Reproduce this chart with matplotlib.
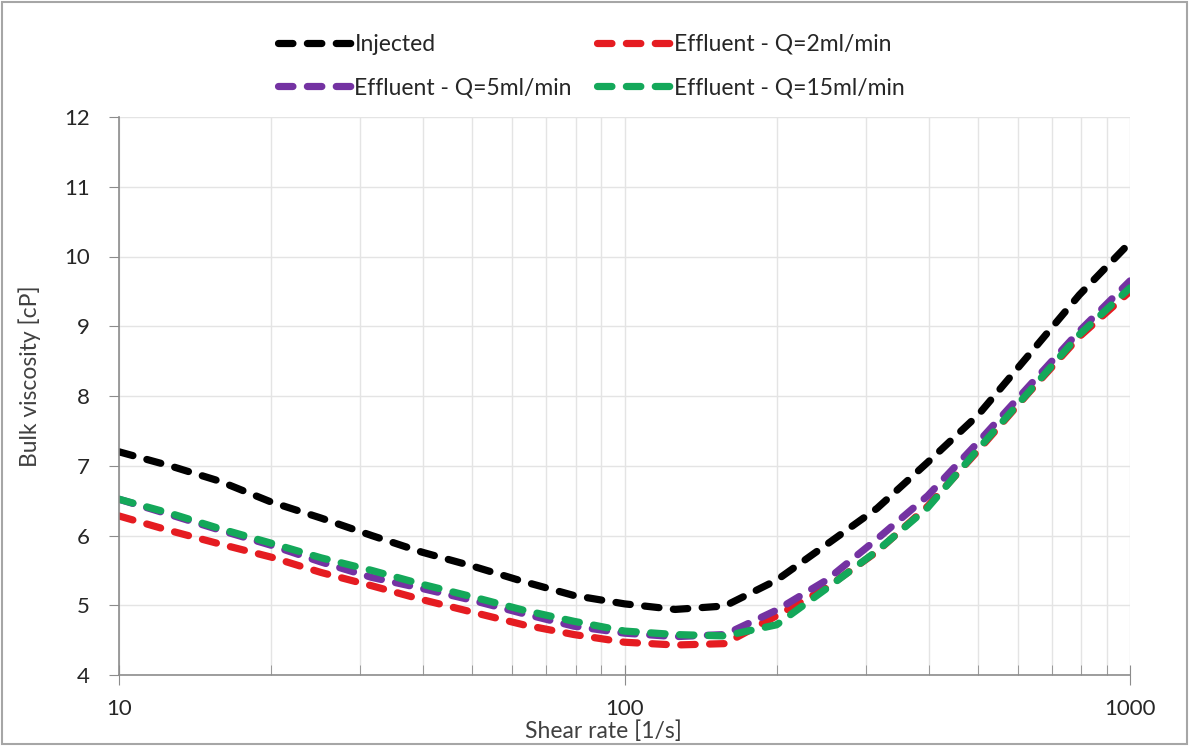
import numpy as np
import matplotlib.pyplot as plt
import matplotlib.patches as patches
from matplotlib.ticker import FixedLocator, NullFormatter, FuncFormatter

plt.rcParams['font.family'] = ['Lato', 'DejaVu Sans']

# shear rate [1/s]
shear = [10, 12.6, 15.8, 20, 25.1, 31.6, 39.8, 50.1, 63.1, 79.4, 100,
         126, 158, 200, 251, 316, 398, 501, 631, 794, 1000]

# bulk viscosity [cP]
injected = [7.20, 7.00, 6.78, 6.48, 6.25, 6.00, 5.76, 5.56, 5.34, 5.14, 5.02,
            4.94, 4.99, 5.36, 5.87, 6.39, 7.05, 7.73, 8.59, 9.45, 10.20]
eff_2 = [6.28, 6.07, 5.88, 5.69, 5.47, 5.28, 5.08, 4.90, 4.72, 4.58, 4.47,
         4.43, 4.45, 4.85, 5.25, 5.77, 6.42, 7.22, 8.05, 8.85, 9.50]
eff_5 = [6.52, 6.30, 6.08, 5.86, 5.62, 5.40, 5.24, 5.07, 4.88, 4.70, 4.60,
         4.55, 4.58, 4.93, 5.36, 5.95, 6.57, 7.34, 8.14, 8.93, 9.65]
eff_15 = [6.52, 6.32, 6.10, 5.89, 5.68, 5.50, 5.30, 5.12, 4.93, 4.77, 4.63,
          4.58, 4.56, 4.72, 5.24, 5.78, 6.40, 7.24, 8.06, 8.88, 9.55]

fig = plt.figure(figsize=(11.89, 7.46), dpi=100)
ax = fig.add_axes([119/1189, 1-675/746, (1130-119)/1189, (675-117)/746])

style = dict(lw=5.2, dash_capstyle='round', dashes=(2.0, 2.0))
l_inj, = ax.plot(shear, injected, color='black', label='Injected', **style)
l_2, = ax.plot(shear, eff_2, color='#e51c21', label='Effluent - Q=2ml/min', **style)
l_5, = ax.plot(shear, eff_5, color='#7432a2', label='Effluent - Q=5ml/min', **style)
l_15, = ax.plot(shear, eff_15, color='#14a85a', label='Effluent - Q=15ml/min', **style)

ax.set_xscale('log')
ax.set_xlim(10, 1000)
ax.set_ylim(4, 12)
ax.set_yticks(range(4, 13))
ax.xaxis.set_major_locator(FixedLocator([10, 100, 1000]))
ax.xaxis.set_major_formatter(FuncFormatter(lambda v, p: '%d' % v))
minors = [m * d for d in (10, 100) for m in range(2, 10)]
ax.xaxis.set_minor_locator(FixedLocator(minors))
ax.xaxis.set_minor_formatter(NullFormatter())

grid_c = '#e4e4e4'
ax.grid(True, which='major', axis='y', color=grid_c, lw=1)
ax.grid(True, which='both', axis='x', color=grid_c, lw=1)
ax.set_axisbelow(True)

for s in ('top', 'right'):
    ax.spines[s].set_visible(False)
for s in ('left', 'bottom'):
    ax.spines[s].set_color('#8c8c8c')
    ax.spines[s].set_linewidth(1.2)

ax.tick_params(axis='x', which='major', direction='inout', length=14,
               color='#8c8c8c', labelsize=16, labelcolor='#262626', pad=10)
ax.tick_params(axis='x', which='minor', direction='in', length=7,
               color='#8c8c8c')
ax.tick_params(axis='y', which='major', direction='out', length=7,
               color='#8c8c8c', labelsize=16, labelcolor='#262626', pad=14)

ax.set_xlabel('Shear rate [1/s]', fontsize=16.5, color='#404040', va='center')
ax.xaxis.set_label_coords(0.479, -0.1)
ax.set_ylabel('Bulk viscosity [cP]', fontsize=16.5, color='#404040')
ax.yaxis.set_label_coords(-0.077, 0.536)

leg = fig.legend([l_inj, l_5, l_2, l_15],
                 [l_inj.get_label(), l_5.get_label(), l_2.get_label(), l_15.get_label()],
                 ncol=2, loc='upper left', bbox_to_anchor=(257/1189, 1-13/746),
                 frameon=False, fontsize=16.5, handlelength=3.2, handletextpad=0.15,
                 columnspacing=1.1, labelspacing=0.98)
for t in leg.get_texts():
    t.set_color('#262626')

fig.patches.append(patches.Rectangle((0.002, 0.003), 0.996, 0.994,
                                     transform=fig.transFigure, fill=False,
                                     ec='#a6a6a6', lw=1.5))

fig.savefig('out.png', dpi=100)
